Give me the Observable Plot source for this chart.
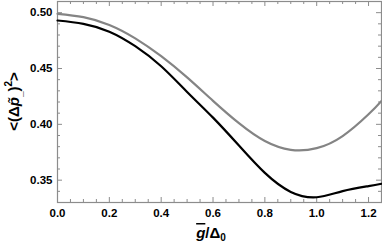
<!DOCTYPE html>
<html><head><meta charset="utf-8">
<script src="https://cdn.jsdelivr.net/npm/d3@7"></script>
<script src="https://cdn.jsdelivr.net/npm/@observablehq/plot@0.6"></script>
<style>
body{margin:0;background:#fff;}
svg{font-family:"Liberation Sans",Arial,sans-serif;}
</style></head><body><div id="chart"></div>
<script>
const gX = [0, 0.1, 0.2, 0.3, 0.4, 0.5, 0.6, 0.7, 0.8, 0.9, 1.0, 1.1, 1.2, 1.25];
const grayY = [0.499, 0.496, 0.489, 0.477, 0.461, 0.442, 0.421, 0.401, 0.385, 0.3772, 0.3787, 0.3895, 0.409, 0.421];
const blackY = [0.493, 0.490, 0.483, 0.470, 0.452, 0.429, 0.406, 0.381, 0.3565, 0.3395, 0.3347, 0.3402, 0.3447, 0.3468];
const xMajor = [0, 0.2, 0.4, 0.6, 0.8, 1.0, 1.2];
const yMajor = [0.35, 0.40, 0.45, 0.50];
const xMinor = d3.range(0, 1.26, 0.05).filter(v => !xMajor.some(m => Math.abs(m - v) < 1e-6));
const yMinor = d3.range(0.33, 0.511, 0.01).filter(v => !yMajor.some(m => Math.abs(m - v) < 1e-6));

const W = 382, H = 245, mt = 1, mb = 43, ml = 57, mr = 1;
const ph = H - mt - mb, pw = W - ml - mr;
const grayData = gX.map((x, i) => ({x, y: grayY[i]}));
const blackData = gX.map((x, i) => ({x, y: blackY[i]}));
const fc = "#8c8c8c";

const plot = Plot.plot({
  width: W, height: H, marginTop: mt, marginBottom: mb, marginLeft: ml, marginRight: mr,
  x: {domain: [0, 1.25]},
  y: {domain: [0.33, 0.51]},
  style: {fontFamily: "Liberation Sans, Arial, sans-serif"},
  marks: [
    Plot.axisX({ticks: xMajor, tickFormat: d3.format(".1f"), tickSize: 0, tickPadding: 6, fontSize: 11.5, fontWeight: "bold", label: null}),
    Plot.axisY({ticks: yMajor, tickFormat: d3.format(".2f"), tickSize: 0, tickPadding: 5, fontSize: 11.5, fontWeight: "bold", label: null}),
    Plot.ruleX(xMajor, {x: d => d, insetTop: ph - 5, stroke: fc}),
    Plot.ruleX(xMajor, {x: d => d, insetBottom: ph - 5, stroke: fc}),
    Plot.ruleX(xMinor, {x: d => d, insetTop: ph - 3, stroke: fc}),
    Plot.ruleX(xMinor, {x: d => d, insetBottom: ph - 3, stroke: fc}),
    Plot.ruleY(yMajor, {y: d => d, insetRight: pw - 5, stroke: fc}),
    Plot.ruleY(yMajor, {y: d => d, insetLeft: pw - 5, stroke: fc}),
    Plot.ruleY(yMinor, {y: d => d, insetRight: pw - 3, stroke: fc}),
    Plot.ruleY(yMinor, {y: d => d, insetLeft: pw - 3, stroke: fc}),
    Plot.frame({stroke: fc, strokeWidth: 1.2}),
    Plot.line(grayData, {x: "x", y: "y", stroke: "#848484", strokeWidth: 2.2, curve: "natural"}),
    Plot.line(blackData, {x: "x", y: "y", stroke: "#000", strokeWidth: 2.2, curve: "natural"})
  ]
});

const svg = d3.select(plot);
const xt = svg.append("text").attr("x", ml + pw / 2 - 8).attr("y", 238)
  .attr("text-anchor", "middle").attr("font-size", 15).attr("font-weight", "bold").attr("fill", "#000");
xt.append("tspan").attr("font-style", "italic").attr("text-decoration", "overline").text("g");
xt.append("tspan").text("/Δ");
xt.append("tspan").attr("font-size", 10).attr("dy", 3).text("0");

const yt = svg.append("text").attr("transform", `translate(19,${mt + ph / 2}) rotate(-90)`)
  .attr("text-anchor", "middle").attr("font-size", 15).attr("font-weight", "bold").attr("fill", "#000");
yt.append("tspan").text("<(Δ");
yt.append("tspan").attr("font-style", "italic").text("p̃");
yt.append("tspan").attr("font-size", 10).attr("dy", 3).text("_");
yt.append("tspan").attr("dy", -3).text(")");
yt.append("tspan").attr("font-size", 10).attr("dy", -7).text("2");
yt.append("tspan").attr("dy", 7).text(">");

document.getElementById("chart").appendChild(plot);
</script></body></html>
